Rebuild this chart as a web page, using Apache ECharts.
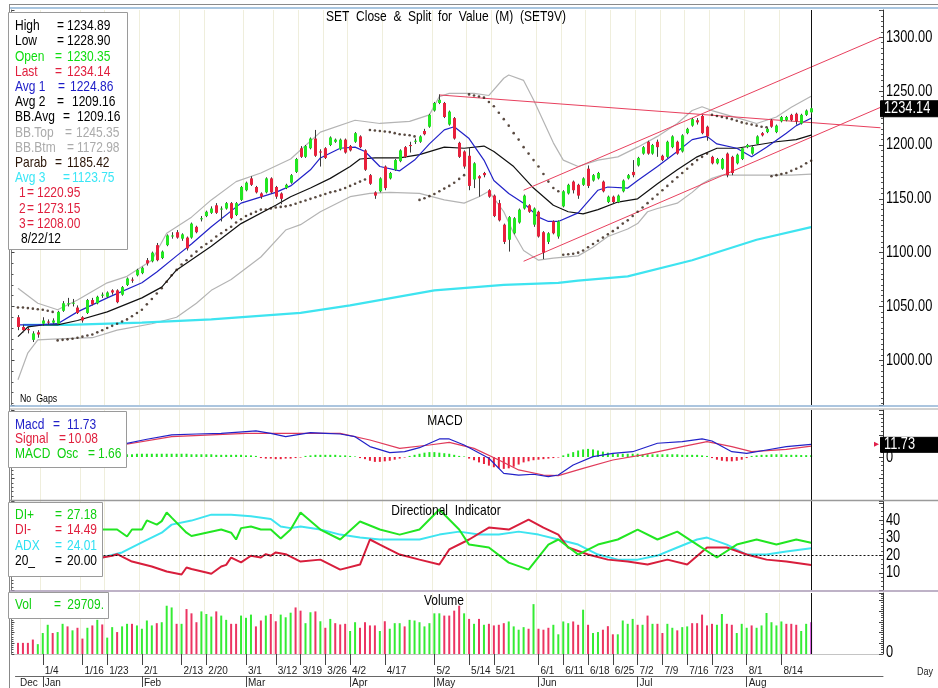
<!DOCTYPE html>
<html>
<head>
<meta charset="utf-8">
<script src="https://cdn.jsdelivr.net/npm/echarts@6/dist/echarts.min.js"></script>
<style>
  html, body { margin: 0; padding: 0; background: #fff; }
  #chart { width: 938px; height: 688px; }
</style>
</head>
<body>
<div id="chart"></div>
<script>
// trading days, Dec 2011 .. 8/22/12
const dates = [
  '12/26','12/27','12/28','12/29','12/30',
  '1/4','1/5','1/6','1/9','1/10','1/11','1/12','1/13','1/16','1/17','1/18','1/19','1/20','1/23','1/24','1/25','1/26','1/27','1/30','1/31',
  '2/1','2/2','2/3','2/6','2/7','2/8','2/9','2/10','2/13','2/14','2/15','2/16','2/17','2/20','2/21','2/22','2/23','2/24','2/27','2/28','2/29',
  '3/1','3/2','3/5','3/6','3/8','3/9','3/12','3/13','3/14','3/15','3/16','3/19','3/20','3/21','3/22','3/23','3/26','3/27','3/28','3/29','3/30',
  '4/2','4/3','4/4','4/5','4/9','4/10','4/11','4/17','4/18','4/19','4/20','4/23','4/24','4/25','4/26','4/27','4/30',
  '5/2','5/3','5/4','5/8','5/9','5/10','5/11','5/14','5/15','5/16','5/17','5/18','5/21','5/22','5/23','5/24','5/25','5/28','5/29','5/30','5/31',
  '6/1','6/5','6/6','6/7','6/8','6/11','6/12','6/13','6/14','6/15','6/18','6/19','6/20','6/21','6/22','6/25','6/26','6/27','6/28','6/29',
  '7/2','7/3','7/4','7/5','7/6','7/9','7/10','7/11','7/12','7/13','7/16','7/17','7/18','7/19','7/20','7/23','7/24','7/25','7/26','7/27','7/30','7/31',
  '8/1','8/3','8/6','8/7','8/8','8/9','8/10','8/14','8/15','8/16','8/17','8/20','8/21','8/22'
];
const weekLabels = ['1/4','1/16','1/23','2/1','2/13','2/20','3/1','3/12','3/19','3/26','4/2','4/17',
  '5/2','5/14','5/21','6/1','6/11','6/18','6/25','7/2','7/9','7/16','7/23','8/1','8/14'];
const monthStarts = ['12/26','1/4','2/1','3/1','4/2','5/2','6/1','7/2','8/1'];
const monthNames = ['Dec','Jan','Feb','Mar','Apr','May','Jun','Jul','Aug'];

// right-hand tick labels of each panel
const priceTicks = [1000, 1050, 1100, 1150, 1200, 1250, 1300];
const macdTicks = [0];
const diTicks = [10, 20, 30, 40];
const volTicks = [0];

const opens = [1040,1031,1029,1019,1026,1034,1036,1035,1034,1046,
  1052,1053,1049,1040,1044,1056,1053,1060,1059,1065,
  1065,1061,1070,1075,1079,1081,1093,1092,1107,1095,
  1107,1115,1119,1113,1114,1114,1124,1131,1134,1137,
  1144,1140,1141,1146,1135,1149,1158,1169,1161,1155,
  1156,1169,1161,1155,1160,1165,1175,1197,1189,1197,
  1206,1194,1197,1200,1203,1196,1205,1199,1203,1208,
  1195,1172,1156,1157,1180,1169,1177,1185,1198,1200,
  1203,1203,1213,1217,1232,1239,1239,1219,1225,1202,
  1194,1190,1168,1171,1174,1158,1153,1146,1126,1112,
  1118,1128,1141,1144,1126,1138,1119,1110,1129,1115,
  1143,1155,1166,1163,1163,1178,1167,1169,1166,1147,
  1152,1147,1157,1169,1175,1181,1192,1203,1192,1203,
  1190,1189,1198,1203,1194,1211,1218,1223,1227,1217,
  1189,1183,1178,1192,1189,1183,1187,1198,1192,1201,
  1211,1212,1223,1212,1222,1223,1228,1229,1220,1228,
  1230.35];
const closes = [1031,1028,1028,1025,1024,1037,1035,1037,1045,1053,
  1053,1053.5,1044,1037,1056,1052,1059,1061,1063,1063,
  1054,1068,1076,1074,1084,1086,1090,1100,1093,1101,
  1116,1116,1114,1117,1104,1127,1119,1132,1138,1141,
  1137,1141,1146,1132,1146,1161,1165,1163,1156,1152,
  1169,1156,1152,1150,1163,1172,1187,1189,1199,1206,
  1190,1193,1188,1207,1205,1205,1193,1195,1211,1198,
  1177,1164,1153,1169,1160,1174,1186,1195,1189,1199,
  1204,1208,1210,1228,1239,1242,1226,1231,1206,1189,
  1180,1162,1183,1169,1172,1152,1134,1130,1110,1133,
  1132,1140,1153,1138,1141,1115,1100,1118,1118,1129,
  1157,1163,1158,1153,1169,1162,1172,1174,1157,1152,
  1147,1153,1167,1172,1172,1188,1198,1192,1200,1198,
  1186,1203,1208,1192,1209,1215,1224,1221,1211,1208,
  1183,1187,1187,1172,1174,1191,1197,1200,1198,1208,
  1209,1215,1217,1218,1226,1226,1223,1222,1228,1232,
  1234.14];
const highs = [1042,1033,1031,1027,1028,1040,1038,1039,1046,1055,
  1058,1057,1051,1041,1057,1058,1060,1063,1064,1066,
  1066,1069,1077,1077,1085,1087,1095,1101,1109,1102,
  1117,1119,1121,1118,1115,1128,1125,1134,1139,1143,
  1146,1143,1147,1147,1147,1162,1166,1171,1162,1156,
  1170,1170,1162,1156,1164,1173,1188,1199,1200,1207,
  1214,1196,1198,1208,1206,1206,1206,1200,1212,1209,
  1196,1173,1157,1170,1181,1175,1187,1196,1199,1203,
  1206,1209,1215,1229,1240,1247,1240,1232,1226,1203,
  1195,1198,1184,1172,1175,1159,1154,1149,1127,1134,
  1133,1141,1154,1145,1142,1139,1120,1119,1130,1130,
  1158,1164,1167,1164,1170,1181,1173,1175,1167,1153,
  1153,1154,1168,1173,1186,1189,1199,1204,1201,1205,
  1191,1204,1209,1204,1210,1216,1225,1225,1228,1218,
  1190,1188,1188,1193,1190,1192,1198,1201,1199,1209,
  1212,1216,1224,1219,1227,1227,1229,1230,1229,1233,
  1234.89];
const lows = [1028,1026,1025,1017,1021,1032,1033,1034,1033,1045,
  1050,1050,1043,1035,1043,1051,1052,1058,1058,1061,
  1053,1060,1069,1072,1078,1080,1088,1091,1092,1094,
  1106,1113,1113,1111,1102,1113,1118,1129,1133,1136,
  1136,1129,1140,1131,1134,1148,1157,1162,1155,1150,
  1155,1155,1150,1145,1159,1164,1174,1188,1188,1196,
  1189,1180,1187,1199,1202,1195,1192,1194,1202,1197,
  1176,1163,1150,1156,1158,1168,1176,1184,1188,1193,
  1201,1202,1209,1216,1231,1238,1225,1218,1205,1188,
  1178,1158,1160,1152,1170,1151,1133,1129,1108,1101,
  1117,1127,1140,1137,1124,1114,1094,1108,1117,1113,
  1142,1154,1155,1150,1162,1160,1166,1168,1156,1146,
  1146,1146,1156,1168,1170,1180,1191,1191,1191,1189,
  1185,1188,1197,1191,1193,1210,1217,1219,1210,1204,
  1182,1182,1177,1170,1172,1182,1186,1197,1191,1200,
  1208,1211,1216,1211,1221,1222,1222,1219,1219,1227,
  1228.90];

// parabolic SAR, one dot per day
const parab = [1049,1049,1048.5,1048,1047.5,1047,1046,1045,
  1018.5,1019,1019.5,1020,1021,1022,1023,1024,1026,1028,1030,1032,1034,1036,1038,1041,1044,
  1047,1052,1057,1062,1067,1073,1079,1084,1089,1093,1097,1101,1105,1108,1111,1115,1118,1121,1124,1128,1131,1134,1136,1138,1140,1140,1141,1142,1142.5,1143,
  1144,1145.5,1147,1148.5,1150,1151.5,1153,1154.5,1156,1157,1158.5,1160,1162,1164,1166,1168,
  1214,1213.5,1213,1212.5,1212,1211,1210,1209.5,1209,1208,
  1149,1150.5,1152.5,1154.5,1157,1159.5,1162,1165,1168.5,1172,
  1247,1246,1245,1244,1240,1236,1230,1224,1218,1211,1205,1198,1192,1186,1180,1173,1166,1160,1157,
  1098,1098.5,1099,1100,1102,1105,1108,1111,1114,1117,1120,1123,1127,1130,1134,1138,1142,1146,1150,1154,1158,1162,1166,1170,1174,1178,1182,1186,1189,1192,
  1228,1227,1226,1225,1224,1222.5,1221,1220,1219,1218,1217,1216.5,
  1171,1172,1173,1174,1176,1178,1180,1183,1185.42];

// [day index, value]
const avg1 = [[0,1033],[4,1033],[8,1034],[12,1045],[18,1058],[25,1072],[28,1082],[32,1097],[35,1108],[39,1124],[45,1146],[52,1156],[55,1162],[59,1177],[61,1188],[65,1197],[68,1198],[70,1194],[73,1180],[77,1176],[80,1186],[83,1201],[86,1214],[88,1217],[91,1206],[94,1186],[96,1167],[99,1155],[102,1146],[105,1133],[107,1129],[109,1129],[113,1137],[117,1158],[119,1161],[123,1160],[125,1167],[129,1180],[133,1194],[136,1205],[139,1208],[141,1201],[145,1197],[148,1189],[151,1198],[155,1211],[157,1218],[160,1224.86]];
const avg2 = [[0,1022],[2,1031],[5,1033],[8,1033],[12,1037],[18,1045],[25,1058],[29,1068],[32,1084],[39,1106],[45,1127],[52,1144],[55,1152],[59,1160],[63,1169],[67,1180],[69,1187],[72,1188],[77,1188],[81,1191],[86,1198],[90,1197],[94,1199],[96,1194],[100,1180],[104,1160],[108,1144],[111,1138],[114,1136],[117,1140],[121,1147],[125,1150],[129,1164],[133,1177],[137,1189],[141,1197],[145,1197],[149,1200],[153,1203],[157,1205],[160,1209.16]];
const bbTop = [[0,1067],[4,1053],[8,1047],[12,1056],[18,1072],[22,1078],[27,1093],[30,1118],[35,1133],[39,1149],[44,1166],[49,1174],[55,1187],[61,1212],[68,1223],[73,1220],[79,1222],[83,1228],[85,1245],[87,1248],[92,1248],[95,1246],[98,1262],[99,1265],[102,1260],[104,1242],[108,1202],[110,1186],[113,1180],[117,1186],[121,1189],[125,1198],[129,1208],[133,1220],[136,1232],[138,1235.5],[140,1232],[143,1228],[146,1224],[149,1220],[153,1226],[156,1235],[160,1245.35]];
const bbBtm = [[0,982],[2,1007],[4,1019],[8,1020],[15,1021],[20,1028],[27,1034],[32,1040],[36,1053],[39,1065],[43,1075],[45,1082],[49,1096],[54,1121],[57,1126],[61,1138],[67,1152],[71,1155],[75,1156],[81,1155],[86,1149],[90,1146],[93,1152],[95,1157],[98,1138],[100,1118],[102,1102],[105,1093],[108,1095],[113,1097],[116,1105],[119,1115],[123,1122],[125,1127],[127,1138],[129,1141],[133,1146],[136,1156],[138,1164],[140,1169],[142,1172],[150,1172],[156,1172],[160,1172.98]];
const avg3 = [[1,1033],[10,1033],[25,1035],[39,1038],[57,1044],[67,1051],[84,1065],[98,1070],[109,1072],[113,1074],[123,1078],[136,1093],[149,1112],[160,1123.75]];
const trend1 = [[85,1246.5],[174,1216]];
const trend2 = [[102,1158],[174,1300]];
const trend3 = [[102,1092],[174,1235]];

const macd = [[21,11.7],[26,16.4],[31,20.4],[36,21.3],[41,21.9],[46,23.5],[48,24.1],[51,21.9],[54,18.8],[59,22.5],[62,21.9],[65,21.3],[68,18.8],[71,9.6],[75,4.0],[78,4.9],[81,8.6],[85,16.7],[87,16.7],[90,11.1],[95,-1.2],[98,-15.1],[101,-16.7],[104,-16.0],[107,-18.2],[109,-16.7],[112,-7.4],[116,0.3],[120,3.4],[124,4.9],[129,12.7],[134,14.2],[138,16.7],[140,14.8],[144,4.9],[147,3.4],[151,6.5],[155,9.6],[160,11.73]];
const signal = [[21,11.1],[31,18.8],[46,21.9],[56,21.9],[65,21.9],[71,15.7],[77,8],[83,11.1],[87,13.6],[92,8],[97,-2.8],[101,-12],[106,-16.7],[109,-17.3],[114,-10.5],[120,-2.8],[126,1.9],[134,9.6],[139,14.2],[144,9.6],[148,4.9],[155,7.1],[160,10.08]];
const macdOsc = [2,2,2,2,2,2,2,2,2,2,2,2,2,2,2,2,2,2,2,2,2,
  2,2.5,2.5,3,3,3,3,3,3,3,3,3,3,3,2.5,2.5,2.5,2.5,2.5,2,2,2,2,2,2,1.5,1.5,1,
  -1,-1.5,-1.5,-2,-2,-1.5,-1.5,-1,-0.5,
  1,1.5,2,2,2,2,2,1.5,1.5,1,0.5,
  -1,-2,-3.5,-4.5,-4.5,-4,-3.5,-2.5,-1.5,-0.5,
  1,2,3,4,4.5,4.5,4,3.5,3,2,1,0.5,
  -1.5,-3,-5,-6.5,-8,-9.5,-10.5,-11,-10.5,-9,-7,-5,
  -4,-3,-2.5,-2,-1.5,-1,-0.5,
  1.5,3,4.5,6,7,7.5,7,6,5,4,3.5,
  3,3,3,3,3,2.5,2.5,2.5,2.5,2.5,2.5,2.5,2.5,2,2,2,2,1.5,1,
  -1,-2.5,-3.5,-4,-4,-3.5,-2.5,-1,
  1,1.5,2,2,2.5,2.5,2.5,2,2,2,1.8,1.7,1.66];

const diPlus = [[17,34.7],[20,34.7],[22,30.7],[23,34.7],[25,34.7],[26,39.9],[28,37.5],[29,39.5],[30,44.4],[31,41.5],[34,32.9],[35,31],[38,32.9],[41,34.7],[43,32.9],[44,29],[45,35.5],[47,36.4],[49,34.7],[51,34.7],[53,29.6],[55,34.7],[57,44.4],[61,34.7],[65,29],[69,39.3],[73,34.7],[77,31.8],[81,34.7],[85,46.1],[89,34.7],[91,26.1],[95,24.4],[99,15.8],[103,11.8],[107,26.1],[109,29],[113,20.4],[117,26.1],[121,29],[125,34.7],[129,29],[133,33.5],[137,26.1],[141,18.7],[145,26.1],[149,29],[153,26.1],[157,29],[160,27.18]];
const diMinus = [[17,18.7],[19,19.7],[20,20.6],[23,16.4],[27,13.6],[30,10.7],[33,9],[34,13],[35,12.1],[38,10.1],[39,9.4],[41,13.6],[42,14.5],[43,18.7],[45,15.9],[47,19.7],[49,18.7],[50,20.6],[51,19.7],[52,21.6],[54,20.6],[57,16.4],[61,17.5],[65,11.8],[69,14.7],[71,29],[73,26.1],[77,20.4],[81,17.5],[85,14.7],[87,23.3],[91,29],[95,35.8],[99,34.7],[103,40.4],[106,35.8],[109,31.8],[111,24.4],[115,20.4],[119,17.5],[123,16.4],[127,14.7],[131,17.5],[135,14.7],[139,24.4],[143,24.4],[147,20.4],[151,17.5],[155,16.4],[160,14.49]];
const adx = [[17,18.7],[21,21.6],[25,27.3],[29,32.9],[31,37.5],[35,39.8],[39,43.2],[43,43.2],[47,42.3],[51,40.7],[53,36.4],[55,35.5],[57,36.4],[61,34.7],[65,31.8],[69,30.1],[73,29],[77,29],[81,29],[85,31.8],[89,33.5],[93,31.8],[97,31.8],[101,33.5],[105,31.8],[109,29],[113,26.1],[117,20.4],[121,17.5],[125,17.5],[129,19.8],[133,24.4],[137,29],[139,30.1],[143,26.1],[147,20.4],[151,20.4],[155,22.1],[160,24.01]];

const volumes = [10400,10400,10400,13500,9200,19600,27300,19600,20500,28200,
  25800,22100,24500,14400,24500,26700,31900,27600,15300,25100,
  20500,25800,28200,28200,26700,23600,31300,26700,28800,29700,
  45100,43500,28200,28200,42000,38000,29700,39800,37400,35000,
  39800,35900,31900,28200,28200,35900,33800,36800,25800,31300,
  35900,37400,30600,36800,34300,38600,43500,40500,28800,39000,
  39800,30600,24500,32800,28800,27600,28200,21500,29700,24500,
  29700,26700,26700,21500,30600,23600,28800,28800,25800,31900,
  31300,29700,25800,28800,38000,38000,35900,35900,40500,45100,
  38000,32800,28200,32800,27300,28200,26700,27300,28800,30400,
  25800,22700,25100,23600,46600,23600,22700,24500,27300,18400,
  30400,28800,30400,27300,41400,27300,19600,20500,22700,26000,
  18400,18400,31300,28200,32800,27300,27300,35900,28200,28200,
  19600,28200,24500,22100,25100,25800,28800,28800,36800,26700,
  28200,27300,37400,28200,27300,19600,28200,24500,26700,24500,
  26700,38300,29700,26700,30400,28200,28200,27300,21500,28200,
  29709];
// 1 = up day, 0 = down day
const volUp = [0,0,0,0,1,1,1,0,1,1, 0,1,0,0,1,0,1,0,1,1, 0,1,1,0,1,1,1,1,0,1,
  1,1,0,1,0,0,0,1,1,1, 0,1,1,0,0,1,1,1,0,0, 1,0,0,1,1,1,0,0,1,1,
  0,1,0,1,0,0,0,1,1,0, 0,0,0,1,0,1,1,1,0,1, 1,1,1,1,1,1,0,0,0,0,
  1,0,1,0,1,0,0,0,0,1, 1,1,1,0,1,0,0,0,1,1, 1,1,0,0,1,0,1,1,0,0,
  0,1,1,1,1,0,1,0,1,0, 0,1,1,0,1,1,0,0,0,0, 0,1,1,0,0,1,1,1,0,1,
  1,1,1,1,1,0,0,0,1,1, 1];

const trendVals = ['1220.95', '1273.15', '1208.00'];

// ---------------------------------------------------------------
const last = dates.length - 1;
const lastDate = dates[last];
const cats = dates.concat(Array.from({ length: 14 }, (_, i) => 'f' + (i + 1)));
const weekSet = new Set(weekLabels);
const monthMap = {};
monthStarts.forEach((d, i) => { monthMap[d] = monthNames[i]; });

const GL = 15.5, GR = 55;
const sans = '"Liberation Sans", Arial, sans-serif';
const GREEN = '#22e622', RED = '#e8203c', BLUE = '#2222c8', CYAN = '#3ee4f0';
const SX = 0.8;   // the source text is horizontally condensed

const grids = [
  { left: GL, right: GR, top: 10, height: 395 },
  { left: GL, right: GR, top: 410, height: 90.2 },
  { left: GL, right: GR, top: 501, height: 89.25 },
  { left: GL, right: GR, top: 593, height: 62 }
];

function plainX(gi) {
  return {
    type: 'category', gridIndex: gi, data: cats, boundaryGap: true,
    axisLine: { show: false }, axisTick: { show: false }, axisLabel: { show: false },
    splitLine: { show: true, interval: (i, v) => weekSet.has(v), lineStyle: { color: '#efeedc', width: 1 } }
  };
}
const xAxes = [plainX(0), plainX(1), plainX(2), plainX(3),
  {
    type: 'category', gridIndex: 3, data: cats, boundaryGap: true, position: 'bottom', offset: 10,
    axisLine: { show: true, lineStyle: { color: '#c4c4c4' } },
    axisTick: { show: true, alignWithLabel: true, length: 11, interval: (i, v) => weekSet.has(v), lineStyle: { color: '#444' } },
    axisLabel: { show: true, interval: (i, v) => weekSet.has(v), align: 'left', margin: 2, padding: [0, 0, 0, 2],
      fontSize: 10, fontFamily: sans, color: '#222' },
    splitLine: { show: false }
  },
  {
    type: 'category', gridIndex: 3, data: cats, boundaryGap: true, position: 'bottom', offset: 22,
    axisLine: { show: true, lineStyle: { color: '#666' } },
    axisTick: { show: true, alignWithLabel: true, length: 11, interval: (i, v) => v in monthMap && i > 0, lineStyle: { color: '#444' } },
    axisLabel: { show: true, interval: (i, v) => v in monthMap, align: 'left', margin: 2, padding: [0, 0, 0, 2],
      fontSize: 10, fontFamily: sans, color: '#222', formatter: v => monthMap[v] || '' },
    splitLine: { show: false }
  }
];

function sideY(gi, pos, min, max, extra) {
  return Object.assign({
    type: 'value', gridIndex: gi, position: pos, min, max, offset: pos === 'left' ? 4 : 0,
    axisLine: { show: true, lineStyle: { color: pos === 'left' ? '#777' : '#333' } },
    axisTick: { show: true, inside: true, length: pos === 'left' ? 3 : 4, lineStyle: { color: '#444' } },
    minorTick: { show: true, splitNumber: 5, length: 2, lineStyle: { color: '#555' } },
    splitLine: { show: false }, axisLabel: { show: false }
  }, extra);
}
const yAxes = [
  sideY(0, 'right', 958.5, 1325.4, { splitNumber: 7, minorTick: { show: true, splitNumber: 10, length: 2, lineStyle: { color: '#555' } } }),
  sideY(1, 'right', -40, 43.5),
  sideY(2, 'right', 0, 51, { interval: 10, minorTick: { show: true, splitNumber: 4, length: 2, lineStyle: { color: '#555' } } }),
  sideY(3, 'right', 0, 57000),
  sideY(0, 'left', 958.5, 1325.4, { splitNumber: 7 }),
  sideY(1, 'left', -40, 43.5),
  sideY(2, 'left', 0, 51, { interval: 10 }),
  sideY(3, 'left', 0, 57000)
];

function lineS(gi, data, color, width, extra) {
  return Object.assign({
    type: 'line', xAxisIndex: gi, yAxisIndex: gi, data, symbol: 'none', silent: true,
    lineStyle: { color, width }, z: 2
  }, extra);
}
const vLine = { xAxis: lastDate, lineStyle: { color: '#111', width: 1, type: 'solid' }, label: { show: false } };
const vMark = { silent: true, symbol: 'none', animation: false, data: [vLine] };

const candles = dates.map((d, i) => [i, opens[i], closes[i], lows[i], highs[i]]);

const series = [
  lineS(0, bbTop, '#b4b4b4', 1.2),
  lineS(0, bbBtm, '#b4b4b4', 1.2),
  lineS(0, avg3, CYAN, 2.2),
  lineS(0, avg2, '#111', 1.2),
  lineS(0, avg1, BLUE, 1.2, { markLine: vMark }),
  lineS(0, trend1, '#e8405e', 1),
  lineS(0, trend2, '#e8405e', 1),
  lineS(0, trend3, '#e8405e', 1),
  {
    type: 'custom', xAxisIndex: 0, yAxisIndex: 0, data: candles, z: 5, silent: true,
    encode: { x: 0, y: [1, 2, 3, 4] },
    renderItem: function (params, api) {
      const i = api.value(0);
      const o = api.coord([i, api.value(1)]);
      const c = api.coord([i, api.value(2)]);
      const l = api.coord([i, api.value(3)]);
      const h = api.coord([i, api.value(4)]);
      const up = api.value(2) >= api.value(1);
      const x = Math.round(o[0]) + 0.5;
      const top = Math.min(o[1], c[1]);
      const bh = Math.max(1, Math.abs(o[1] - c[1]));
      return {
        type: 'group', children: [
          { type: 'line', shape: { x1: x, y1: h[1], x2: x, y2: l[1] }, style: { stroke: '#3a3a3a', lineWidth: 1 } },
          { type: 'rect', shape: { x: x - 1.5, y: top, width: 3, height: bh }, style: { fill: up ? GREEN : RED } }
        ]
      };
    }
  },
  {
    type: 'scatter', xAxisIndex: 0, yAxisIndex: 0, data: parab.map((v, i) => [i, v]), symbol: 'circle', symbolSize: 2.6,
    itemStyle: { color: '#2e1c10' }, z: 6, silent: true
  },
  // MACD
  {
    type: 'bar', xAxisIndex: 1, yAxisIndex: 1, data: macdOsc, barWidth: 2, silent: true,
    itemStyle: { color: p => p.value >= 0 ? GREEN : RED }
  },
  lineS(1, signal, '#e03a5a', 1.2),
  lineS(1, macd, BLUE, 1.2, { markLine: vMark }),
  // Directional indicator
  lineS(2, adx, CYAN, 2),
  lineS(2, diMinus, '#d81e3c', 2),
  lineS(2, diPlus, GREEN, 2, {
    markLine: { silent: true, symbol: 'none', animation: false, data: [
      vLine,
      { yAxis: 20, lineStyle: { color: '#111', width: 1.2, type: [2, 2] }, label: { show: false } }
    ] }
  }),
  // Volume
  {
    type: 'bar', xAxisIndex: 3, yAxisIndex: 3, barWidth: 2, silent: true,
    data: volumes.map((v, i) => ({ value: v, itemStyle: { color: i === last ? '#d048d8' : (volUp[i] ? '#34ec34' : '#ec3462') } })),
    markLine: vMark
  }
];

const chart = echarts.init(document.getElementById('chart'), null, { renderer: 'canvas' });
chart.setOption({
  animation: false,
  backgroundColor: '#fff',
  grid: grids,
  xAxis: xAxes,
  yAxis: yAxes,
  series
});

// ---- overlay text / frames
function txt(x, y, s, color, size, align, sx) {
  return {
    type: 'text', x, y, scaleX: sx || SX, z: 101, silent: true,
    style: { text: s, fill: color, font: (size || 15) + 'px ' + sans, align: align || 'left', verticalAlign: 'middle' }
  };
}
function box(x, y, w, h, fill, stroke) {
  return { type: 'rect', z: 100, silent: true, shape: { x: x + 0.5, y: y + 0.5, width: w, height: h },
    style: { fill: fill || '#fff', stroke: stroke || '#9a9a9a', lineWidth: 1 } };
}
function hline(y, color, w) {
  return { type: 'line', z: 99, silent: true, shape: { x1: 10, y1: y, x2: 938, y2: y }, style: { stroke: color, lineWidth: w || 1 } };
}
const yPix = (axis, v) => chart.convertToPixel({ yAxisIndex: axis }, v);

const f2 = v => v.toFixed(2);
const lastOf = a => a[a.length - 1][1];
const legendRows = [
  ['High', 57, 67, '#000', f2(highs[last])],
  ['Low', 57, 67, '#000', f2(lows[last])],
  ['Open', 55, 67, '#10dd10', f2(opens[last])],
  ['Last', 55, 67, '#e0203e', f2(closes[last])],
  ['Avg 1', 58, 70, '#1c1cc8', f2(lastOf(avg1))],
  ['Avg 2', 57, 72, '#000', f2(lastOf(avg2))],
  ['BB.Avg', 63, 77, '#000', f2(lastOf(avg2))],
  ['BB.Top', 65, 76, '#ababab', f2(lastOf(bbTop))],
  ['BB.Btm', 67, 77, '#ababab', f2(lastOf(bbBtm))],
  ['Parab', 55, 67, '#2b1608', f2(parab[last])],
  ['Avg 3', 63, 72, '#3ae6f6', f2(lastOf(avg3))]
];
const graphics = [
  hline(4.5, '#8a8a8a', 1.2), hline(8, '#a9c6e0', 2),
  hline(406, '#8fb2d4', 1.6), hline(409, '#a4a4a4', 1),
  hline(500.5, '#9a9a9a', 1.4), hline(591, '#a898b4', 1.4),
  { type: 'line', z: 99, silent: true, shape: { x1: 9.5, y1: 4, x2: 9.5, y2: 688 }, style: { stroke: '#888', lineWidth: 1 } },
  txt(446, 17, 'SET  Close  &  Split  for  Value  (M)  (SET9V)', '#000', 15, 'center'),
  txt(20, 399, 'No  Gaps', '#000', 11),
  txt(445, 421, 'MACD', '#000', 15, 'center'),
  txt(446, 511, 'Directional  Indicator', '#000', 15, 'center'),
  txt(444, 601, 'Volume', '#000', 15, 'center'),
  txt(925, 672, 'Day', '#222', 10, 'center', 0.9),
  box(8, 12, 119, 237)
];
legendRows.forEach((r, i) => {
  const y = 26 + i * 15.2;
  graphics.push(txt(15, y, r[0], r[3]), txt(r[1], y, '=', r[3]), txt(r[2], y, r[4], r[3]));
});
trendVals.forEach((v, i) => {
  const y = 26 + (11 + i) * 15.2;
  graphics.push(txt(19, y, String(i + 1), '#e0203e'), txt(27, y, '=', '#e0203e'), txt(37, y, v, '#e0203e'));
});
graphics.push(txt(21, 26 + 14 * 15.2, '8/22/12', '#000'));

graphics.push(box(8, 411, 118, 56),
  txt(15, 425, 'Macd', BLUE), txt(53, 425, '=', BLUE), txt(67, 425, '11.73', BLUE),
  txt(15, 439, 'Signal', '#e0203e'), txt(59, 439, '=', '#e0203e'), txt(68, 439, '10.08', '#e0203e'),
  txt(15, 454, 'MACD  Osc', '#10d010'), txt(88, 454, '=', '#10d010'), txt(98, 454, '1.66', '#10d010'));

graphics.push(box(8, 502, 94, 74));
[['DI+', '27.18', '#10d010'], ['DI-', '14.49', '#e0203e'], ['ADX', '24.01', '#30e0f2'], ['20_', '20.00', '#000']].forEach((r, i) => {
  const y = 515 + i * 15.3;
  graphics.push(txt(15, y, r[0], r[2]), txt(55, y, '=', r[2]), txt(97, y, r[1], r[2], 15, 'right'));
});
graphics.push(box(8, 592, 100, 26),
  txt(15, 605, 'Vol', '#10d010'), txt(54, 605, '=', '#10d010'), txt(104, 605, '29709.', '#10d010', 15, 'right'));

// right-hand axis labels, placed through each panel's own value axis
priceTicks.forEach(v => graphics.push(txt(886, yPix(0, v), v.toFixed(2), '#000', 16)));
macdTicks.forEach(v => graphics.push(txt(886, yPix(1, v) + 1, String(v), '#000', 16)));
diTicks.forEach(v => graphics.push(txt(886, yPix(2, v), String(v), '#000', 16)));
volTicks.forEach(v => graphics.push(txt(886, yPix(3, v) - 1, String(v), '#000', 16)));

// last-value tags on the price and MACD axes
const tagP = yPix(0, closes[last]);
graphics.push(box(880, tagP - 8, 58, 16, '#000', '#000'), txt(884, tagP + 0.5, closes[last].toFixed(2), '#fff', 16));
const tagM = yPix(1, lastOf(macd));
graphics.push(box(880, tagM - 7.5, 58, 15, '#000', '#000'), txt(884, tagM + 0.5, lastOf(macd).toFixed(2), '#fff', 16),
  { type: 'polygon', z: 101, silent: true, shape: { points: [[874, tagM - 2.5], [879, tagM], [874, tagM + 2.5]] }, style: { fill: '#e0204a' } });

chart.setOption({ graphic: graphics });
</script>
</body>
</html>
